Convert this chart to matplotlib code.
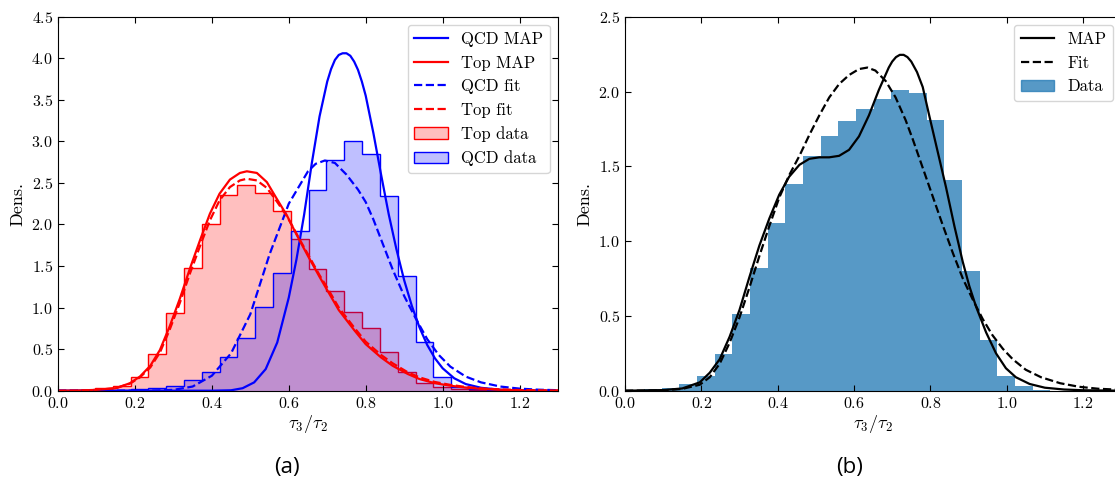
import numpy as np
import matplotlib
matplotlib.use("Agg")
import matplotlib.pyplot as plt
from matplotlib.patches import Patch

plt.rcParams["font.family"] = "cmr10"
plt.rcParams["mathtext.fontset"] = "cm"
plt.rcParams["axes.formatter.use_mathtext"] = True

# histogram bins (shared by all histograms)
bin_start = 0.0035
bin_width = 0.0463

# (a) histogram densities per bin
top_counts = [0.005, 0.01, 0.03, 0.06, 0.16, 0.44, 0.94, 1.48, 2.01, 2.36, 2.47, 2.38, 2.16, 1.82,
              1.46, 1.20, 0.95, 0.75, 0.46, 0.22, 0.09, 0.05, 0.02, 0.01, 0.005, 0.003, 0.0, 0.0]
qcd_counts = [0.0, 0.005, 0.005, 0.01, 0.015, 0.03, 0.06, 0.13, 0.22, 0.40, 0.64, 1.01, 1.42, 1.92,
              2.42, 2.78, 3.00, 2.85, 2.34, 1.38, 0.58, 0.17, 0.05, 0.015, 0.005, 0.0, 0.0, 0.0]

# (a) curves
qcd_map_x = [0.0, 0.40, 0.45, 0.48, 0.51, 0.54, 0.57, 0.60, 0.62, 0.64, 0.66, 0.68, 0.70, 0.71, 0.72,
             0.73, 0.74, 0.75, 0.76, 0.77, 0.78, 0.79, 0.80, 0.82, 0.84, 0.86, 0.88, 0.90, 0.92, 0.94,
             0.96, 0.98, 1.00, 1.03, 1.06, 1.10, 1.15, 1.20, 1.30]
qcd_map_y = [0.0, 0.0, 0.005, 0.03, 0.10, 0.26, 0.58, 1.12, 1.58, 2.12, 2.74, 3.30, 3.72, 3.87, 3.98,
             4.04, 4.06, 4.06, 4.03, 3.96, 3.86, 3.72, 3.55, 3.10, 2.60, 2.12, 1.70, 1.33, 1.02, 0.76,
             0.55, 0.39, 0.27, 0.15, 0.08, 0.035, 0.012, 0.004, 0.0]

qcd_fit_x = [0.0, 0.25, 0.30, 0.35, 0.40, 0.45, 0.50, 0.55, 0.60, 0.65, 0.67, 0.694, 0.72, 0.75, 0.78,
             0.80, 0.82, 0.84, 0.87, 0.90, 0.93, 0.96, 0.99, 1.02, 1.06, 1.10, 1.15, 1.20, 1.25, 1.30]
qcd_fit_y = [0.0, 0.002, 0.01, 0.05, 0.18, 0.45, 0.92, 1.64, 2.25, 2.64, 2.73, 2.77, 2.74, 2.60, 2.42,
             2.27, 2.06, 1.82, 1.46, 1.14, 0.87, 0.62, 0.43, 0.29, 0.17, 0.10, 0.05, 0.025, 0.012, 0.006]

top_x = [0.0, 0.05, 0.10, 0.15, 0.187, 0.213, 0.24, 0.265, 0.29, 0.317, 0.343, 0.37, 0.395, 0.42,
         0.447, 0.473, 0.491, 0.517, 0.543, 0.57, 0.595, 0.62, 0.65, 0.68, 0.70, 0.73, 0.77, 0.80,
         0.84, 0.87, 0.91, 0.94, 0.98, 1.02, 1.06, 1.10, 1.15, 1.20, 1.30]
top_map_y = [0.0, 0.002, 0.01, 0.03, 0.09, 0.17, 0.30, 0.49, 0.77, 1.11, 1.47, 1.82, 2.13, 2.37,
             2.54, 2.62, 2.64, 2.62, 2.51, 2.30, 2.11, 1.88, 1.62, 1.37, 1.21, 0.97, 0.73, 0.56,
             0.40, 0.30, 0.20, 0.14, 0.09, 0.06, 0.037, 0.022, 0.011, 0.005, 0.001]
top_fit_y = [0.0, 0.002, 0.01, 0.03, 0.085, 0.16, 0.28, 0.46, 0.73, 1.06, 1.41, 1.75, 2.05, 2.29,
             2.45, 2.53, 2.55, 2.53, 2.44, 2.27, 2.10, 1.89, 1.64, 1.39, 1.24, 1.00, 0.76, 0.59,
             0.43, 0.33, 0.22, 0.16, 0.105, 0.07, 0.045, 0.028, 0.015, 0.008, 0.002]

# (b) histogram + curves
data_counts = [0.005, 0.01, 0.02, 0.044, 0.10, 0.244, 0.51, 0.82, 1.12, 1.38, 1.57, 1.70, 1.80, 1.88,
               1.95, 2.01, 1.99, 1.81, 1.41, 0.80, 0.34, 0.10, 0.03, 0.005, 0.0, 0.0, 0.0, 0.0]

map_x = [0.0, 0.10, 0.15, 0.196, 0.222, 0.248, 0.274, 0.300, 0.326, 0.352, 0.378, 0.404, 0.430,
         0.457, 0.483, 0.509, 0.535, 0.561, 0.587, 0.613, 0.639, 0.665, 0.691, 0.70, 0.71, 0.72,
         0.73, 0.74, 0.75, 0.765, 0.78, 0.797, 0.819, 0.841, 0.863, 0.885, 0.902, 0.92, 0.946,
         0.972, 0.998, 1.024, 1.06, 1.10, 1.15, 1.20, 1.30]
map_y = [0.0, 0.004, 0.015, 0.056, 0.12, 0.21, 0.36, 0.54, 0.76, 0.97, 1.15, 1.31, 1.43,
         1.51, 1.55, 1.56, 1.56, 1.57, 1.61, 1.70, 1.84, 2.01, 2.16, 2.20, 2.23, 2.245,
         2.245, 2.23, 2.20, 2.13, 2.03, 1.84, 1.60, 1.36, 1.10, 0.86, 0.70, 0.56, 0.39,
         0.25, 0.15, 0.09, 0.045, 0.02, 0.008, 0.003, 0.0]

fit_x = [0.0, 0.10, 0.15, 0.196, 0.222, 0.248, 0.274, 0.300, 0.326, 0.352, 0.378, 0.404, 0.430,
         0.457, 0.483, 0.509, 0.535, 0.561, 0.587, 0.613, 0.635, 0.656, 0.683, 0.709, 0.735, 0.754,
         0.780, 0.806, 0.832, 0.859, 0.885, 0.911, 0.937, 0.963, 0.99, 1.016, 1.05, 1.09, 1.14,
         1.19, 1.24, 1.30]
fit_y = [0.0, 0.002, 0.012, 0.04, 0.09, 0.18, 0.32, 0.49, 0.69, 0.90, 1.10, 1.29, 1.44,
         1.57, 1.71, 1.84, 1.96, 2.05, 2.11, 2.15, 2.16, 2.14, 2.07, 1.96, 1.81, 1.68,
         1.49, 1.30, 1.11, 0.92, 0.75, 0.61, 0.48, 0.37, 0.28, 0.21, 0.14, 0.09, 0.05,
         0.026, 0.013, 0.006]

edges = bin_start + bin_width * np.arange(len(top_counts) + 1)


def style_axes(ax, ymax):
    ax.set_xlim(0, 1.3)
    ax.set_ylim(0, ymax)
    ax.set_xticks([0.0, 0.2, 0.4, 0.6, 0.8, 1.0, 1.2])
    ax.set_yticks(np.arange(0, ymax + 0.01, 0.5))
    ax.tick_params(direction="in", top=True, right=True, labelsize=11.5, length=4)
    ax.set_xlabel(r"$\tau_3/\tau_2$", fontsize=13, labelpad=2)
    ax.set_ylabel("Dens.", fontsize=13, labelpad=4)


fig = plt.figure(figsize=(11.15, 4.82), dpi=100)
ax1 = fig.add_axes([0.05202, 0.18942, 0.44843, 0.77593])
ax2 = fig.add_axes([0.56054, 0.18942, 0.44502, 0.77593])

# (a)
ax1.stairs(top_counts, edges, fill=True, facecolor=(1, 0, 0, 0.25), edgecolor="none")
ax1.stairs(top_counts, edges, color="red", lw=1.0)
ax1.stairs(qcd_counts, edges, fill=True, facecolor=(0, 0, 1, 0.25), edgecolor="none")
ax1.stairs(qcd_counts, edges, color="blue", lw=1.0)
l1, = ax1.plot(qcd_map_x, qcd_map_y, color="blue", lw=1.6)
l2, = ax1.plot(top_x, top_map_y, color="red", lw=1.6)
l3, = ax1.plot(qcd_fit_x, qcd_fit_y, color="blue", lw=1.6, ls="--")
l4, = ax1.plot(top_x, top_fit_y, color="red", lw=1.6, ls="--")
p1 = Patch(facecolor=(1, 0, 0, 0.25), edgecolor="red", lw=1.0)
p2 = Patch(facecolor=(0, 0, 1, 0.25), edgecolor="blue", lw=1.0)
ax1.legend([l1, l2, l3, l4, p1, p2],
           ["QCD MAP", "Top MAP", "QCD fit", "Top fit", "Top data", "QCD data"],
           loc="upper right", fontsize=12)
style_axes(ax1, 4.5)

# (b)
ax2.stairs(data_counts, edges, fill=True, color="tab:blue", alpha=0.75)
m1, = ax2.plot(map_x, map_y, color="black", lw=1.6)
m2, = ax2.plot(fit_x, fit_y, color="black", lw=1.6, ls="--")
p3 = Patch(facecolor="tab:blue", alpha=0.75, edgecolor="tab:blue")
ax2.legend([m1, m2, p3], ["MAP", "Fit", "Data"], loc="upper right", fontsize=12)
style_axes(ax2, 2.5)

fig.text(0.2574, 0.031, "(a)", ha="center", va="center", fontsize=16, family="Open Sans")
fig.text(0.7623, 0.031, "(b)", ha="center", va="center", fontsize=16, family="Open Sans")

fig.savefig("out.png", dpi=100)
